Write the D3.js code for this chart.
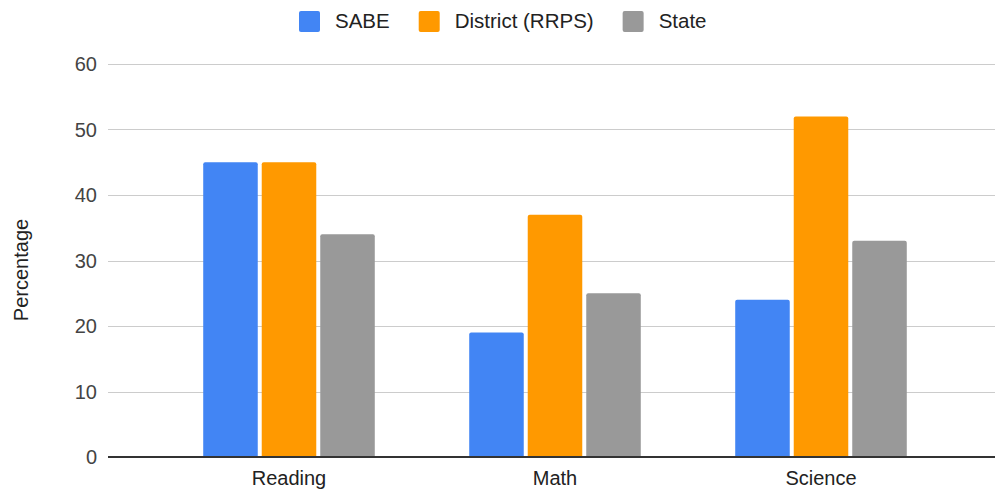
<!DOCTYPE html>
<html>
<head>
<meta charset="utf-8">
<script src="https://cdn.jsdelivr.net/npm/d3@7"></script>
<style>
  body { margin: 0; background: #fff; }
  text { font-family: "Liberation Sans", Arial, sans-serif; }
</style>
</head>
<body>
<div id="chart-area"></div>
<script>
var subjects = ["Reading", "Math", "Science"];
var seriesNames = ["SABE", "District (RRPS)", "State"];
var sabe = [45, 19, 24];
var district = [45, 37, 52];
var state = [34, 25, 33];
var yTicks = [0, 10, 20, 30, 40, 50, 60];
var colors = ["#4285f4", "#ff9900", "#999999"];

var allSeries = [sabe, district, state];
var dataset = [];
subjects.forEach(function(s, i) {
    seriesNames.forEach(function(n, j) {
        dataset.push({ subject: s, series: n, idx: j, value: allSeries[j][i] });
    });
});

var width = 995, height = 493;

var svg = d3.select("#chart-area").append("svg")
    .attr("width", width)
    .attr("height", height);

var yScale = d3.scaleLinear().domain([0, 60]).range([457, 64]);

var xScale = d3.scaleBand().domain(subjects)
    .range([156, 954])
    .paddingInner(0.355)
    .paddingOuter(0.355 / 2);

var xInner = d3.scaleBand().domain(seriesNames)
    .range([0, xScale.bandwidth()])
    .paddingInner(0.068)
    .paddingOuter(0);

// gridlines
svg.append("g").selectAll("line").data(yTicks.filter(function(d) { return d > 0; }))
    .enter().append("line")
    .attr("x1", 108).attr("x2", 995)
    .attr("y1", function(d) { return Math.round(yScale(d)) + 0.5; })
    .attr("y2", function(d) { return Math.round(yScale(d)) + 0.5; })
    .style("stroke", "#cccccc")
    .style("stroke-width", 1);

// y tick labels
svg.append("g").selectAll("text").data(yTicks)
    .enter().append("text")
    .attr("x", 97)
    .attr("y", function(d) { return yScale(d) + 7; })
    .attr("text-anchor", "end")
    .style("font-size", "20px")
    .style("fill", "#444")
    .text(function(d) { return d; });

// bars with rounded tops
function barPath(x, y, w, h, r) {
    return "M" + x + "," + (y + h) +
        "V" + (y + r) +
        "Q" + x + "," + y + " " + (x + r) + "," + y +
        "H" + (x + w - r) +
        "Q" + (x + w) + "," + y + " " + (x + w) + "," + (y + r) +
        "V" + (y + h) + "Z";
}

svg.append("g").selectAll("path").data(dataset)
    .enter().append("path")
    .attr("d", function(d) {
        var x = xScale(d.subject) + xInner(d.series);
        var y = yScale(d.value);
        return barPath(x, y, xInner.bandwidth(), yScale(0) - y, 2);
    })
    .style("fill", function(d) { return colors[d.idx]; });

// baseline
svg.append("line")
    .attr("x1", 108).attr("x2", 995)
    .attr("y1", 457).attr("y2", 457)
    .style("stroke", "#333")
    .style("stroke-width", 2);

// x labels
svg.append("g").selectAll("text").data(subjects)
    .enter().append("text")
    .attr("x", function(d) { return xScale(d) + xScale.bandwidth() / 2; })
    .attr("y", 485)
    .attr("text-anchor", "middle")
    .style("font-size", "20px")
    .style("fill", "#222")
    .text(function(d) { return d; });

// y axis title
svg.append("text")
    .attr("transform", "translate(28,270) rotate(-90)")
    .attr("text-anchor", "middle")
    .style("font-size", "20px")
    .style("fill", "#222")
    .text("Percentage");

// legend
var legend = svg.append("g");
var lx = 0;
seriesNames.forEach(function(n, i) {
    var item = legend.append("g").attr("transform", "translate(" + lx + ",0)");
    item.append("rect")
        .attr("x", 0).attr("y", 11)
        .attr("width", 21).attr("height", 21)
        .attr("rx", 2)
        .style("fill", colors[i]);
    var t = item.append("text")
        .attr("x", 36).attr("y", 28)
        .style("font-size", "20.5px")
        .style("fill", "#222")
        .text(n);
    lx += 36 + t.node().getComputedTextLength() + 29;
});
legend.attr("transform", "translate(299,0)");
</script>
</body>
</html>
